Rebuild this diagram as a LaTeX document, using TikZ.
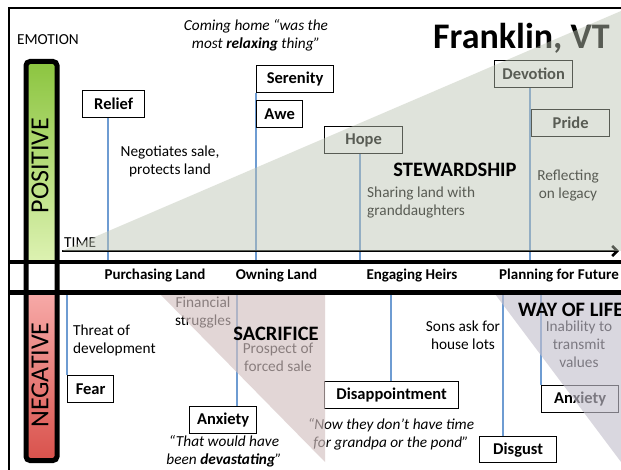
\documentclass[tikz,border=0pt]{standalone}
\usepackage{fontspec}
\setmainfont{Carlito}
\usetikzlibrary{arrows.meta}

\definecolor{stemblue}{HTML}{6E9CD2}
\definecolor{stewfill}{HTML}{BDC4B3}
\definecolor{sacfill}{HTML}{D3C1C1}
\definecolor{wayfill}{HTML}{C4C0CD}
\definecolor{posdark}{HTML}{8CC540}
\definecolor{poslight}{HTML}{DDF2B2}
\definecolor{neglight}{HTML}{F7AAA8}
\definecolor{negdark}{HTML}{D9524C}

\pgfdeclarelayer{stems}
\pgfdeclarelayer{veil}
\pgfdeclarelayer{front}
\pgfsetlayers{stems,main,veil,front}

\tikzset{
  emo/.style={draw=black, line width=1.3pt, fill=white, inner sep=0pt,
    minimum height=27pt, anchor=north west,
    font=\fontsize{16.5}{20}\selectfont\bfseries},
  stem/.style={draw=stemblue, line width=1.2pt},
  note/.style={font=\fontsize{15.3}{18}\selectfont, align=center, inner sep=0pt},
  quote/.style={font=\fontsize{15.3}{18}\selectfont\itshape, align=center, inner sep=0pt},
  phase/.style={font=\fontsize{15}{18}\selectfont\bfseries, inner sep=0pt},
  theme/.style={font=\fontsize{20.5}{24}\selectfont\bfseries, inner sep=0pt},
  pole/.style={font=\fontsize{26}{30}\selectfont, inner sep=0pt, rotate=90},
  divider/.style={line width=4.5pt, draw=black},
}

\begin{document}
\begin{tikzpicture}[x=1pt,y=-1pt]
\useasboundingbox (0,0) rectangle (621,470);

% ---------- texts and boxes ----------
\node[anchor=west, font=\fontsize{15.3}{18}\selectfont, inner sep=0pt] (emotion) at (17,40) {EMOTION};
\node[quote] (relaxing) at (256,35) {Coming home “was the\\most \textbf{relaxing} thing”};
\node[anchor=base west, font=\fontsize{36}{40}\selectfont\bfseries, inner sep=0pt] (title) at (433,49) {Franklin, VT};

\node[emo, minimum width=62pt] (relief) at (82,90) {Relief};
\node[emo, minimum width=77pt] (serenity) at (256,65) {Serenity};
\node[emo, minimum width=46pt] (awe) at (256,100) {Awe};
\node[emo, minimum width=78pt] (hope) at (324,126) {Hope};
\node[emo, minimum width=78pt] (devotion) at (494,60) {Devotion};
\node[emo, minimum width=78pt] (pride) at (531,109) {Pride};

\node[note] (negotiates) at (170,161.5) {Negotiates sale,\\protects land};
\node[note, align=left, anchor=west] (sharing) at (367,203) {Sharing land with\\granddaughters};
\node[note] (reflecting) at (568,186) {Reflecting\\on legacy};

\node[anchor=west, font=\fontsize{15.3}{18}\selectfont, inner sep=0pt] (timelabel) at (64,243) {TIME};

\node[emo, minimum width=46pt] (fear) at (67,375) {Fear};
\node[emo, minimum width=67pt] (anxietyA) at (189,406) {Anxiety};
\node[emo, minimum width=134pt] (disappointment) at (324,381) {Disappointment};
\node[emo, minimum width=77pt, minimum height=26pt] (disgust) at (479,436) {Disgust};
\node[emo, minimum width=77pt] (anxietyB) at (541,385) {Anxiety};

\node[note, align=left, anchor=west] (threat) at (73,340) {Threat of\\development};
\node[note] (financial) at (203,313) {Financial\\struggles};
\node[note] (prospect) at (278,357) {Prospect of\\forced sale};
\node[quote] (devastating) at (224,451.5) {“That would have\\been \textbf{devastating}”};
\node[quote] (grandpa) at (391,434) {“Now they don’t have time\\for grandpa or the pond”};
\node[note] (sons) at (463,335.5) {Sons ask for\\house lots};
\node[note] (inability) at (579,344.5) {Inability to\\transmit\\values};

% ---------- time axis ----------
\coordinate (t0) at (62,251);
\coordinate (t1) at (619,251);
\draw[line width=2.5pt, -{Straight Barb[length=5pt,width=10pt]}] (t0) -- (t1);

% ---------- paper and stems ----------
\begin{pgfonlayer}{stems}
  \fill[white] (0,0) rectangle (621,470);
  \coordinate (sRelief) at (108,261);
  \coordinate (sSerenity) at (256,261);
  \coordinate (sHope) at (360,261);
  \coordinate (sDevotion) at (530,261);
  \draw[stem] (relief.south -| sRelief) -- (sRelief);
  \draw[stem] (serenity.south -| sSerenity) -- (sSerenity);
  \draw[stem] (hope.south -| sHope) -- (sHope);
  \draw[stem] (devotion.south -| sDevotion) -- (sDevotion);
  \coordinate (sFear) at (67,294);
  \coordinate (sAnxA) at (237,294);
  \coordinate (sDisap) at (391,294);
  \coordinate (sDisg) at (503,294);
  \coordinate (sAnxB) at (541,294);
  \draw[stem] (sFear) -- (fear.north -| sFear);
  \draw[stem] (sAnxA) -- (anxietyA.north -| sAnxA);
  \draw[stem] (sDisap) -- (disappointment.north -| sDisap);
  \draw[stem] (sDisg) -- (disgust.north -| sDisg);
  \draw[stem] (sAnxB) -- (anxietyB.north -| sAnxB);
\end{pgfonlayer}

% ---------- translucent theme wedges ----------
\begin{pgfonlayer}{veil}
  \fill[stewfill, opacity=0.47] (62,251) -- (621,251) -- (621,11) -- cycle;
  \fill[sacfill, opacity=0.65] (160,294) -- (325,294) -- (325,462) -- cycle;
  \fill[wayfill, opacity=0.63] (495,294) -- (621,294) -- (621,462) -- cycle;
\end{pgfonlayer}

% ---------- frame, emotion bar, dividers, headings ----------
\begin{pgfonlayer}{front}
  \draw[line width=1.5pt] (9,470) -- (9,8) -- (621,8);
  \shade[top color=posdark, bottom color=poslight] (28.5,62) rectangle (54.5,262);
  \shade[top color=neglight, bottom color=negdark] (28.5,292) rectangle (54.5,460);
  \draw[line width=5pt, rounded corners=4pt] (26,61.5) rectangle (57,460.5);
  \draw[divider] (9,262) -- (621,262);
  \draw[divider] (9,292.5) -- (621,292.5);
  \node[pole] (positive) at (40,165.5) {POSITIVE};
  \node[pole] (negative) at (40,375) {NEGATIVE};

  \node[phase] (purchasing) at (155,276) {Purchasing Land};
  \node[phase] (owning) at (276.5,276) {Owning Land};
  \node[phase] (engaging) at (412,276) {Engaging Heirs};
  \node[phase] (planning) at (559,276) {Planning for Future};

  \node[theme] (stewardship) at (455,170) {STEWARDSHIP};
  \node[theme] (sacrifice) at (276,334) {SACRIFICE};
  \node[theme, anchor=west] (wayoflife) at (518,310) {WAY OF LIFE};
\end{pgfonlayer}
\end{tikzpicture}
\end{document}
